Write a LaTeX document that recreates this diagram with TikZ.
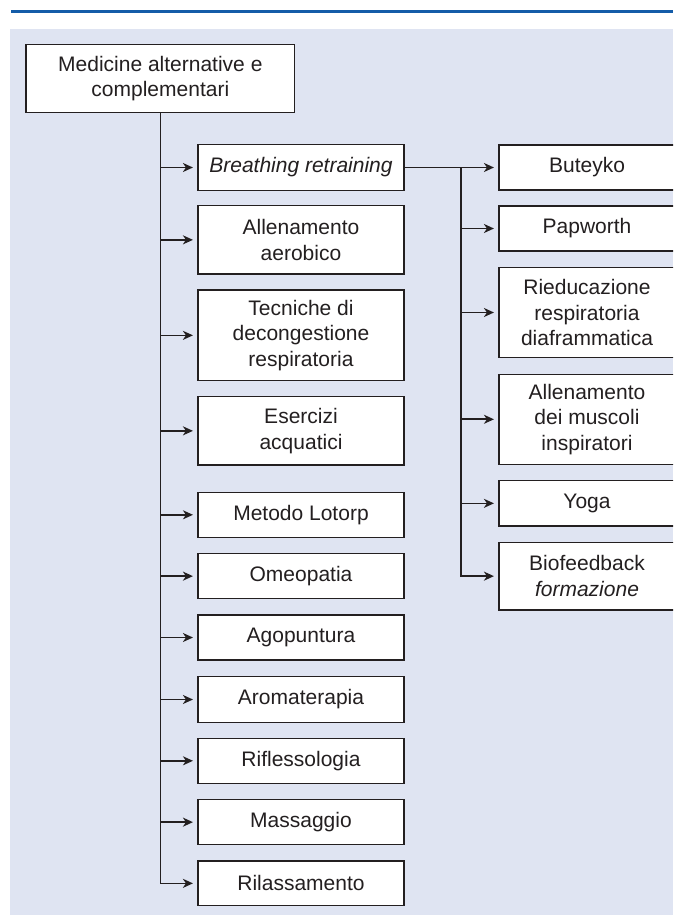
\documentclass[tikz,border=0pt]{standalone}
\usepackage{fontspec}
\setmainfont{Liberation Sans}
\usetikzlibrary{arrows.meta}
\definecolor{bgblue}{RGB}{223,228,242}
\definecolor{topblue}{RGB}{20,92,168}
\definecolor{ink}{RGB}{35,31,32}
\tikzset{
  box/.style={draw=ink, line width=1.1pt, fill=white, text=ink, align=center,
    inner sep=0pt, font=\fontsize{21}{25.6}\selectfont},
  lbox/.style={box, minimum width=206pt},
  rbox/.style={box, minimum width=176pt},
  conn/.style={draw=ink, line width=1.7pt},
  arr/.style={conn, -{Stealth[length=10pt,width=9pt,inset=3pt]}, shorten >=4.5pt},
}
\begin{document}
\begin{tikzpicture}[x=1pt,y=-1pt]
\useasboundingbox (0,0) rectangle (673,915);
\clip (0,0) rectangle (673,915);
\fill[bgblue] (10,29) rectangle (673,915);
\draw[topblue, line width=2.6pt] (11,11.8) -- (673,11.8);

\node[box, minimum width=268.7pt, minimum height=68.4pt] (root) at (160.35,78.5) {Medicine alternative e\\complementari};

% left column
\node[lbox, minimum height=45.3pt] (breath) at (301,167.5) {\itshape Breathing retraining};
\node[lbox, minimum height=68.3pt] (aerob) at (301,239.85) {Allenamento\\aerobico};
\node[lbox, minimum height=90.7pt] (tecn) at (301,335.35) {Tecniche di\\decongestione\\respiratoria};
\node[lbox, minimum height=68.3pt] (acq) at (301,430.85) {Esercizi\\acquatici};
\node[lbox, minimum height=45pt] (lotorp) at (301,514.8) {Metodo Lotorp};
\node[lbox, minimum height=45.5pt] (omeo) at (301,576.15) {Omeopatia};
\node[lbox, minimum height=45pt] (agop) at (301,637.5) {Agopuntura};
\node[lbox, minimum height=45.5pt] (aroma) at (301,699.5) {Aromaterapia};
\node[lbox, minimum height=45pt] (rifl) at (301,760.8) {Riflessologia};
\node[lbox, minimum height=45.5pt] (mass) at (301,822.15) {Massaggio};
\node[lbox, minimum height=44.7pt] (rilass) at (301,883.35) {Rilassamento};

% right column
\node[rbox, minimum height=45pt] (but) at (587,167.5) {Buteyko};
\node[rbox, minimum height=45pt] (pap) at (587,228.5) {Papworth};
\node[rbox, minimum height=90.4pt] (ried) at (587,312.5) {Rieducazione\\respiratoria\\diaframmatica};
\node[rbox, minimum height=90pt] (musc) at (587,419.3) {Allenamento\\dei muscoli\\inspiratori};
\node[rbox, minimum height=45.3pt] (yoga) at (587,503.35) {Yoga};
\node[rbox, minimum height=67.7pt] (bio) at (587,576.15) {Biofeedback\\\textit{formazione}};

% main trunk
\coordinate (t1) at (root.south);
\draw[arr] (t1) |- (rilass.west);
\foreach \n in {breath,aerob,tecn,acq,lotorp,omeo,agop,aroma,rifl,mass}
  \draw[arr] (t1 |- \n.west) -- (\n.west);

% second trunk
\coordinate (t2) at (461,167.5);
\draw[arr] (breath.east) -- (but.west);
\draw[arr] (t2) |- (bio.west);
\foreach \n in {pap,ried,musc,yoga}
  \draw[arr] (t2 |- \n.west) -- (\n.west);
\end{tikzpicture}
\end{document}
